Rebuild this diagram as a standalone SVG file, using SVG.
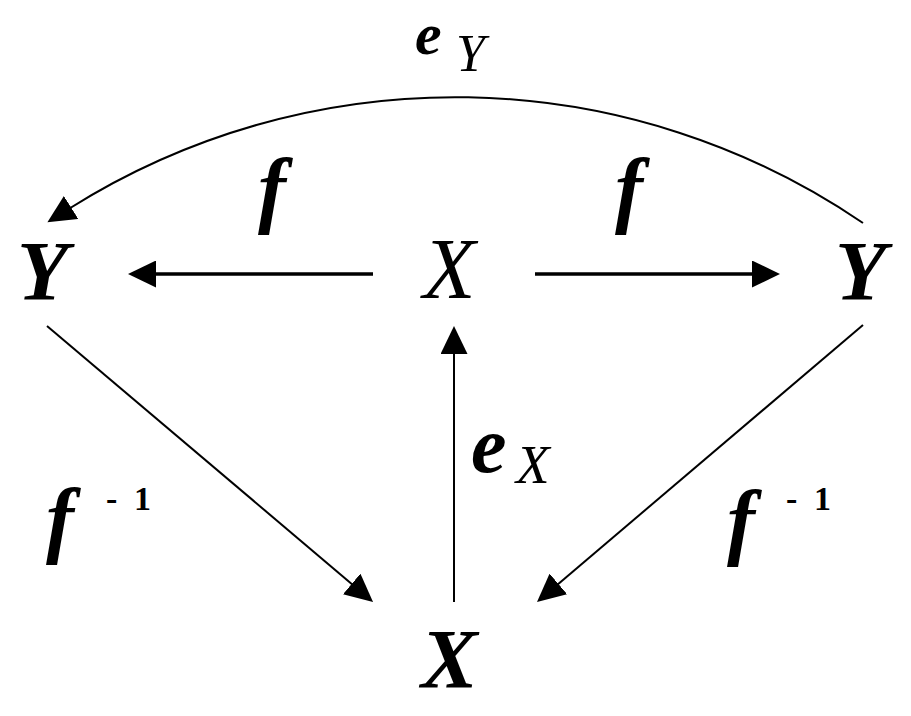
<svg xmlns="http://www.w3.org/2000/svg" width="911" height="716" viewBox="0 0 911 716">
<style>
  .bi { font-family: 'Liberation Serif', 'Times New Roman', serif; font-weight: bold; font-style: italic; fill: #000; }
  .it { font-family: 'Liberation Serif', 'Times New Roman', serif; font-weight: normal; font-style: italic; fill: #000; }
  .b { font-family: 'Liberation Serif', 'Times New Roman', serif; font-weight: bold; font-style: normal; fill: #000; }
  .thick { fill: none; stroke: #000; stroke-width: 3.6; }
  .thin { fill: none; stroke: #000; stroke-width: 2; }
</style>
<defs>
  <marker id="head" viewBox="0 0 28 27" refX="2" refY="13.5" markerWidth="28" markerHeight="27" markerUnits="userSpaceOnUse" orient="auto">
    <path d="M0,0 L28,13.5 L0,27 z" fill="#000"/>
  </marker>
</defs>
<rect width="911" height="716" fill="#fff"/>
<g id="connectors">
  <line class="thick" x1="373" y1="274" x2="154" y2="274" marker-end="url(#head)"/>
  <line class="thick" x1="535" y1="274" x2="754" y2="274" marker-end="url(#head)"/>
  <line class="thin" x1="454" y1="602" x2="454" y2="352" marker-end="url(#head)"/>
  <line class="thin" x1="47" y1="326" x2="353.2" y2="585.2" marker-end="url(#head)"/>
  <line class="thin" x1="863" y1="325" x2="556.8" y2="585.2" marker-end="url(#head)"/>
  <path class="thin" d="M863,223 A724,724 0 0 0 69.4,208.5" marker-end="url(#head)"/>
</g>
<g id="node-Y-left"><text class="bi" x="17" y="300" font-size="84">Y</text></g>
<g id="node-X-center"><text class="it" x="423" y="298" font-size="86">X</text></g>
<g id="node-Y-right"><text class="bi" x="835" y="300" font-size="84">Y</text></g>
<g id="node-X-bottom"><text class="bi" x="421" y="688" font-size="85">X</text></g>
<g id="label-eY"><text class="bi" x="415" y="53.5" font-size="60">e</text><text class="it" x="456" y="71" font-size="52">Y</text></g>
<g id="label-f-left"><text class="bi" x="258" y="217" font-size="84">f</text></g>
<g id="label-f-right"><text class="bi" x="615" y="217" font-size="84">f</text></g>
<g id="label-eX"><text class="bi" x="471" y="472" font-size="80">e</text><text class="it" x="516" y="483" font-size="55">X</text></g>
<g id="label-finv-left"><text class="bi" x="46" y="547" font-size="84">f</text><text class="b" y="510" font-size="34"><tspan x="106">-</tspan><tspan x="134">1</tspan></text></g>
<g id="label-finv-right"><text class="bi" x="727" y="549" font-size="84">f</text><text class="b" y="510" font-size="34"><tspan x="786">-</tspan><tspan x="814">1</tspan></text></g>
</svg>
